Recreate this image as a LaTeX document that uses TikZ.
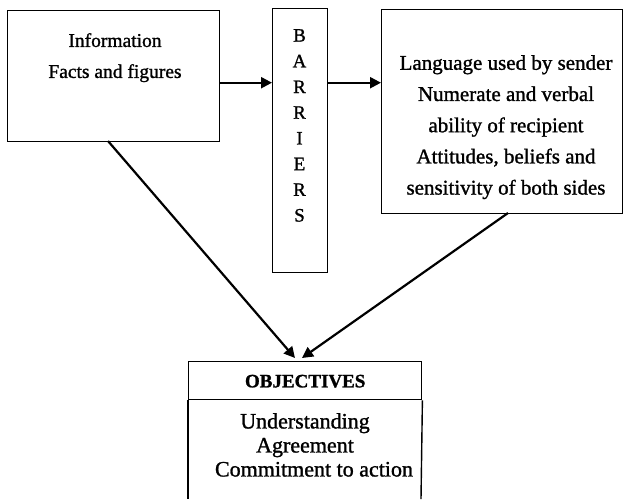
\documentclass[tikz,border=0pt]{standalone}
\usepackage{fontspec}
\setmainfont{Liberation Serif}[FakeBold=1.2]
\usetikzlibrary{arrows.meta,calc}
\begin{document}
\begin{tikzpicture}[x=1pt,y=-1pt,
  box/.style={draw,line width=1.4pt,rectangle,inner sep=0pt,anchor=north west},
  txt/.style={align=center,inner sep=0pt,anchor=north},
  arr/.style={line width=2.2pt,-{Triangle[length=11pt,width=11pt]}}]
\useasboundingbox (0,0) rectangle (624,499);
% boxes
\node[box,minimum width=212pt,minimum height=131pt] (info) at (7,10) {};
\node[box,minimum width=55pt,minimum height=264pt] (barriers) at (272,8) {};
\node[box,minimum width=241pt,minimum height=204pt] (lang) at (381,9) {};
\node[box,minimum width=233pt,minimum height=38pt] (objhead) at (188,361) {};
\coordinate (objbl) at (188,499);
\coordinate (objbr) at (421,499);
\draw[line width=1.4pt] (objhead.south west) -- (objbl);
\draw[line width=1.4pt] (objhead.south east) -- (objbr);
% texts
\node[txt,font=\fontsize{19.5}{31}\selectfont] (infotxt) at (115,33) {Information\\Facts and figures};
\node[txt,font=\fontsize{19}{25.7}\selectfont] (bartxt) at (299.5,29) {B\\A\\R\\R\\I\\E\\R\\S};
\node[txt,font=\fontsize{21}{31.2}\selectfont] (langtxt) at (506,55) {Language used by sender\\Numerate and verbal\\ability of recipient\\Attitudes, beliefs and\\sensitivity of both sides};
\node[inner sep=0pt,font=\fontsize{19}{22}\selectfont\bfseries] (objtitle) at ([yshift=-0.5pt]objhead.center) {OBJECTIVES};
\node[txt,font=\fontsize{22}{24}\selectfont] (objtxt) at (305,413) {Understanding\\Agreement\hspace*{12pt}\\\hspace*{18pt}Commitment to action};
% connectors
\coordinate (tipL) at (295,358);
\coordinate (tipR) at (302,358);
\coordinate (infoOut) at (108,141);
\coordinate (langOut) at (508,213);
\draw[arr] ([yshift=-6.5pt]info.east) -- ([yshift=-6.5pt]info.east -| barriers.west);
\draw[arr] ([yshift=-6.5pt]info.east -| barriers.east) -- ([yshift=-6.5pt]info.east -| lang.west);
\draw[arr] (infoOut) -- (tipL);
\draw[arr] (langOut) -- (tipR);
\end{tikzpicture}
\end{document}
